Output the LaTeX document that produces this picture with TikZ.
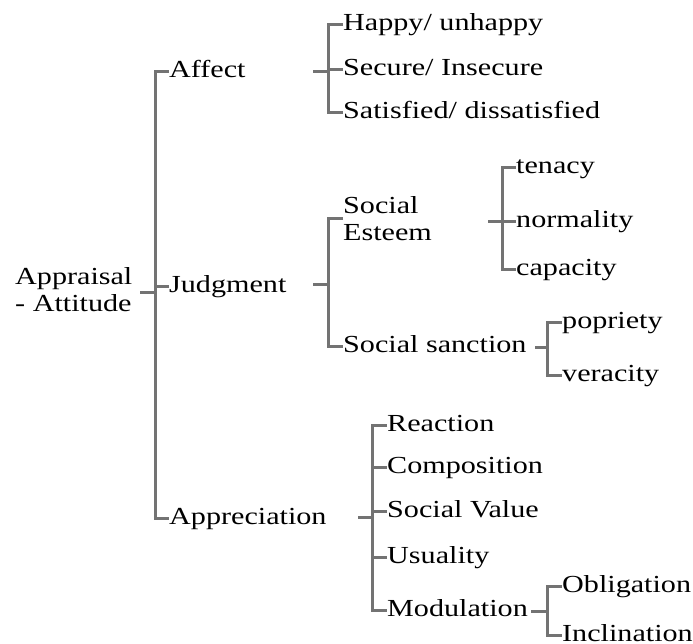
\documentclass[tikz,border=0pt]{standalone}
\usepackage{fontspec}
\setmainfont{Liberation Serif}[FakeStretch=1.23]
\usetikzlibrary{calc}

\begin{document}
\begin{tikzpicture}[
        x=1pt, y=-1pt,
        font=\fontsize{24.5}{27}\selectfont,
        item/.style={anchor=west, inner sep=0pt, text height=16pt, text depth=4pt},
        twoline/.style={anchor=west, inner sep=0pt, align=left},
        link/.style={draw=black!55, line width=3pt}
    ]
        \useasboundingbox (0,0) rectangle (693,644);

        % root and first level
        \node[twoline] (root) at (15,290) {Appraisal\\- Attitude};
        \node[item] (affect) at (169,72) {Affect};
        \node[item] (judgment) at (169,286) {Judgment};
        \node[item] (appreciation) at (169,518) {Appreciation};
        \coordinate (root-s) at (140,292);
        \coordinate (root-j) at (155,292);
        \draw[link] (root-s) -- (root-j);
        \draw[link] (affect.west) -| (root-j) |- (appreciation.west);
        \draw[link] (judgment.west) -- (judgment.west -| root-j);

        % affect
        \node[item] (happy) at (343,25) {Happy/ unhappy};
        \node[item] (secure) at (343,70) {Secure/ Insecure};
        \node[item] (satisfied) at (343,113) {Satisfied/ dissatisfied};
        \coordinate (aff-s) at (313,72);
        \coordinate (aff-j) at (328,72);
        \draw[link] (aff-s) -- (aff-j);
        \draw[link] (happy.west) -| (aff-j) |- (satisfied.west);
        \draw[link] (secure.west) -- (secure.west -| aff-j);

        % judgment
        \node[twoline] (esteem) at (343,219) {Social\\Esteem};
        \node[item] (sanction) at (343,346) {Social sanction};
        \coordinate (jud-s) at (313,284);
        \coordinate (jud-j) at (328,284);
        \draw[link] (jud-s) -- (jud-j);
        \draw[link] (esteem.west) -| (jud-j) |- (sanction.west);

        % social esteem
        \node[item] (tenacy) at (516,168) {tenacy};
        \node[item] (normality) at (516,222) {normality};
        \node[item] (capacity) at (516,270) {capacity};
        \coordinate (est-s) at (488,222);
        \coordinate (est-j) at (502,222);
        \draw[link] (est-s) -- (est-j);
        \draw[link] (tenacy.west) -| (est-j) |- (capacity.west);
        \draw[link] (normality.west) -- (normality.west -| est-j);

        % social sanction
        \node[item] (popriety) at (562,322) {popriety};
        \node[item] (veracity) at (562,375) {veracity};
        \coordinate (san-s) at (535,347);
        \coordinate (san-j) at (547,347);
        \draw[link] (san-s) -- (san-j);
        \draw[link] (popriety.west) -| (san-j) |- (veracity.west);

        % appreciation
        \node[item] (reaction) at (387,425) {Reaction};
        \node[item] (composition) at (387,467) {Composition};
        \node[item] (value) at (387,511) {Social Value};
        \node[item] (usuality) at (387,557) {Usuality};
        \node[item] (modulation) at (387,610) {Modulation};
        \coordinate (app-s) at (358,517);
        \coordinate (app-j) at (372,517);
        \draw[link] (app-s) -- (app-j);
        \draw[link] (reaction.west) -| (app-j) |- (modulation.west);
        \foreach \n in {composition, value, usuality}
            \draw[link] (\n.west) -- (\n.west -| app-j);

        % modulation
        \node[item] (obligation) at (562,586) {Obligation};
        \node[item] (inclination) at (562,635) {Inclination};
        \coordinate (mod-s) at (531,611);
        \coordinate (mod-j) at (547,611);
        \draw[link] (mod-s) -- (mod-j);
        \draw[link] (obligation.west) -| (mod-j) |- (inclination.west);
    \end{tikzpicture}
\end{document}
